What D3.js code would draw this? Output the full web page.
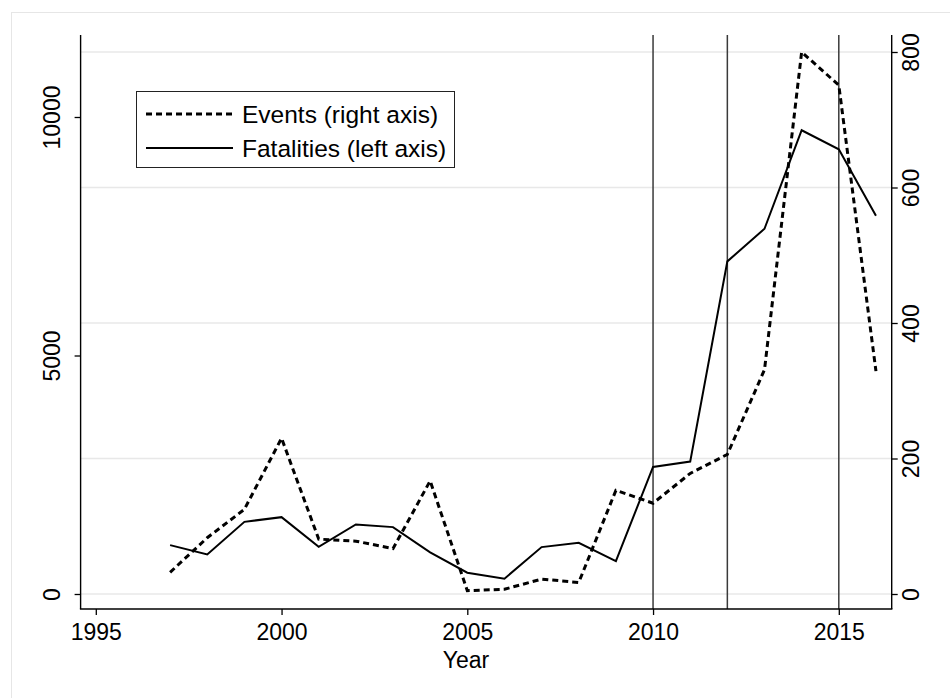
<!DOCTYPE html>
<html>
<head>
<meta charset="utf-8">
<script src="https://cdn.jsdelivr.net/npm/d3@7"></script>
<style>
  html, body { margin: 0; padding: 0; background: #ffffff; }
  svg { display: block; }
  text { font-family: "Liberation Sans", Arial, Helvetica, sans-serif; fill: #000; }
  .axis-label { font-family: "Liberation Sans Narrow", "Arial Narrow", "Liberation Sans", Arial, sans-serif; }
</style>
</head>
<body>
<svg id="chart" width="950" height="698"></svg>
<script>
// Annual series, 1997–2016
const years = [1997, 1998, 1999, 2000, 2001, 2002, 2003, 2004, 2005, 2006,
               2007, 2008, 2009, 2010, 2011, 2012, 2013, 2014, 2015, 2016];
const fatalities = [1025, 830, 1513, 1611, 990, 1458, 1402, 872, 446, 321,
                    983, 1074, 690, 2663, 2776, 6973, 7657, 9722, 9324, 7929];
const events = [32, 83, 125, 230, 81, 78, 67, 167, 5, 7,
                22, 17, 153, 134, 178, 206, 331, 800, 751, 329];

// Axis ticks and reference years
const xTicks = [1995, 2000, 2005, 2010, 2015];
const leftTicks = [0, 5000, 10000];
const rightTicks = [0, 200, 400, 600, 800];
const markerYears = [2010, 2012, 2015];

// Legend entries
const legendLabels = ["Events (right axis)", "Fatalities (left axis)"];

const svg = d3.select("#chart");

// Plot region
const plot = { left: 80.6, right: 891.7, top: 35, bottom: 609 };

const x = d3.scaleLinear().domain([1995, 2015]).range([95.8, 838.8]);
const yLeft = d3.scaleLinear().domain([0, 10000]).range([594, 117]);
const yRight = d3.scaleLinear().domain([0, 800]).range([594, 52]);

// Outer frame of the graph region
svg.append("rect")
  .attr("x", 11.5).attr("y", 12.5)
  .attr("width", 960).attr("height", 720)
  .attr("fill", "#ffffff")
  .attr("stroke", "#e6e6e6").attr("stroke-width", 1);

// Horizontal grid lines at right-axis ticks
svg.append("g").selectAll("line")
  .data(rightTicks)
  .join("line")
  .attr("x1", plot.left).attr("x2", plot.right)
  .attr("y1", d => yRight(d)).attr("y2", d => yRight(d))
  .attr("stroke", "#e8e8e8").attr("stroke-width", 1.6);

// Vertical reference lines
svg.append("g").selectAll("line")
  .data(markerYears)
  .join("line")
  .attr("x1", d => x(d)).attr("x2", d => x(d))
  .attr("y1", plot.top).attr("y2", plot.bottom)
  .attr("stroke", "#3a3a3a").attr("stroke-width", 1.5);

// Series lines
const fatalLine = d3.line()
  .x((d, i) => x(years[i]))
  .y(d => yLeft(d));
const eventLine = d3.line()
  .x((d, i) => x(years[i]))
  .y(d => yRight(d));

svg.append("path")
  .datum(fatalities)
  .attr("d", fatalLine)
  .attr("fill", "none")
  .attr("stroke", "#000")
  .attr("stroke-width", 2)
  .attr("stroke-linejoin", "miter");

svg.append("path")
  .datum(events)
  .attr("d", eventLine)
  .attr("fill", "none")
  .attr("stroke", "#000")
  .attr("stroke-width", 3)
  .attr("stroke-dasharray", "6,4");

// Axis lines
const axisStroke = { color: "#000", width: 1.4 };
svg.append("line")
  .attr("x1", plot.left).attr("x2", plot.left)
  .attr("y1", plot.top).attr("y2", plot.bottom)
  .attr("stroke", axisStroke.color).attr("stroke-width", axisStroke.width);
svg.append("line")
  .attr("x1", plot.right).attr("x2", plot.right)
  .attr("y1", plot.top).attr("y2", plot.bottom)
  .attr("stroke", axisStroke.color).attr("stroke-width", axisStroke.width);
svg.append("line")
  .attr("x1", plot.left - 0.7).attr("x2", plot.right + 0.7)
  .attr("y1", plot.bottom).attr("y2", plot.bottom)
  .attr("stroke", axisStroke.color).attr("stroke-width", axisStroke.width);

const tickFont = 23;

// Bottom axis
const gx = svg.append("g")
  .attr("transform", `translate(0,${plot.bottom})`)
  .call(d3.axisBottom(x).tickValues(xTicks).tickFormat(d3.format("d")).tickSize(6).tickPadding(5));
gx.select(".domain").remove();
gx.selectAll(".tick line").attr("stroke", "#000").attr("stroke-width", 1.3);
gx.selectAll(".tick text")
  .attr("class", "axis-label")
  .attr("font-size", tickFont)
  .attr("fill", "#000")
  .attr("dy", "0.85em");

// Left axis
const gl = svg.append("g")
  .attr("transform", `translate(${plot.left},0)`)
  .call(d3.axisLeft(yLeft).tickValues(leftTicks).tickFormat(d3.format("d")).tickSize(6));
gl.select(".domain").remove();
gl.selectAll(".tick line").attr("stroke", "#000").attr("stroke-width", 1.3);
gl.selectAll(".tick text")
  .attr("class", "axis-label")
  .attr("font-size", tickFont)
  .attr("fill", "#000")
  .attr("text-anchor", "middle")
  .attr("transform", "rotate(-90)")
  .attr("x", 0)
  .attr("y", -21)
  .attr("dy", 0);

// Right axis
const gr = svg.append("g")
  .attr("transform", `translate(${plot.right},0)`)
  .call(d3.axisRight(yRight).tickValues(rightTicks).tickFormat(d3.format("d")).tickSize(6));
gr.select(".domain").remove();
gr.selectAll(".tick line").attr("stroke", "#000").attr("stroke-width", 1.3);
gr.selectAll(".tick text")
  .attr("class", "axis-label")
  .attr("font-size", tickFont)
  .attr("fill", "#000")
  .attr("text-anchor", "middle")
  .attr("transform", "rotate(-90)")
  .attr("x", 0)
  .attr("y", 27)
  .attr("dy", 0);

// Axis title
svg.append("text")
  .attr("class", "axis-label")
  .attr("x", 466)
  .attr("y", 668)
  .attr("text-anchor", "middle")
  .attr("font-size", tickFont)
  .text("Year");

// Legend
const legend = svg.append("g");
legend.append("rect")
  .attr("x", 136.5).attr("y", 91.5)
  .attr("width", 318).attr("height", 76)
  .attr("fill", "#fff")
  .attr("stroke", "#222").attr("stroke-width", 1);

const legendRows = [
  { label: legendLabels[0], y: 114, dash: "6,4", width: 3 },
  { label: legendLabels[1], y: 148, dash: null, width: 2 }
];
legendRows.forEach(r => {
  legend.append("line")
    .attr("x1", 146).attr("x2", 233)
    .attr("y1", r.y).attr("y2", r.y)
    .attr("stroke", "#000")
    .attr("stroke-width", r.width)
    .attr("stroke-dasharray", r.dash);
  legend.append("text")
    .attr("x", 242)
    .attr("y", r.y + 8.5)
    .attr("font-size", 24.5)
    .text(r.label);
});
</script>
</body>
</html>
